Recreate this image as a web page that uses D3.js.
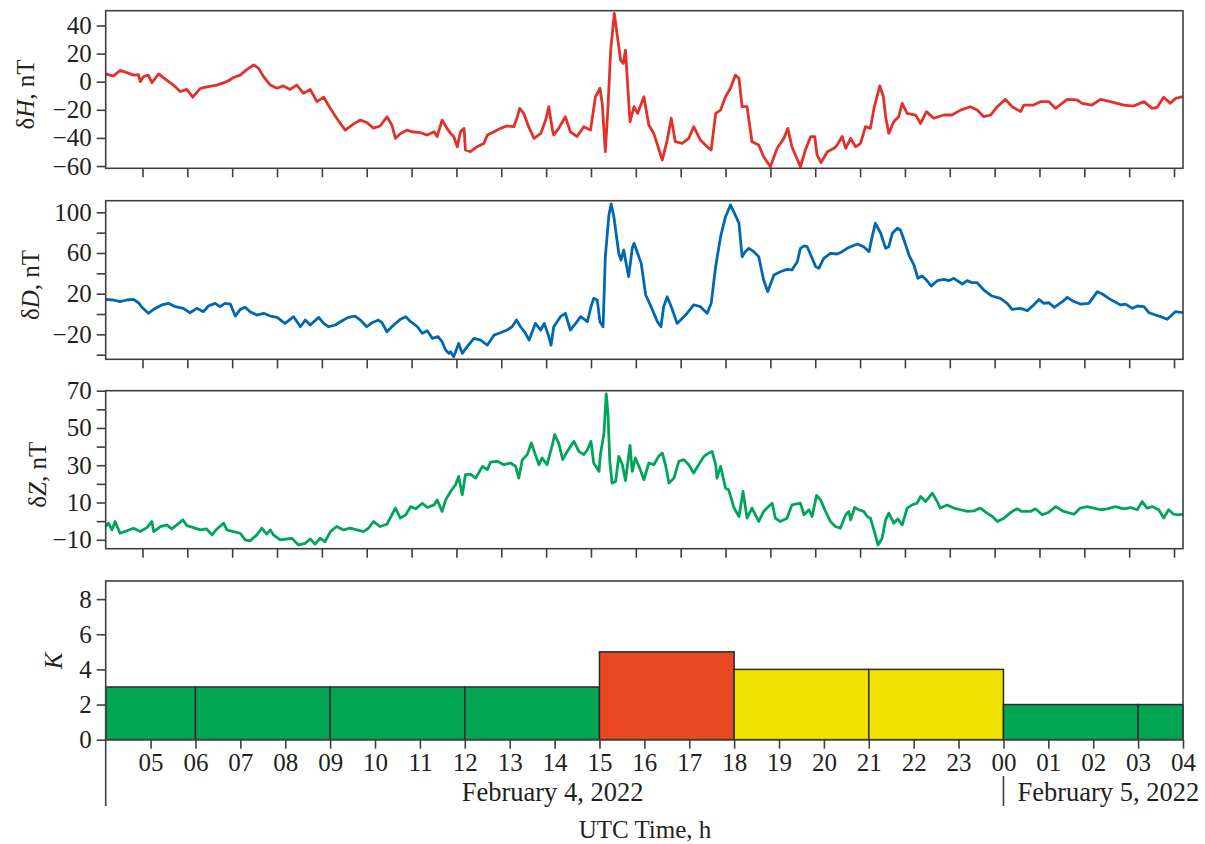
<!DOCTYPE html>
<html>
<head>
<meta charset="utf-8">
<script src="https://cdn.jsdelivr.net/npm/d3@7"></script>
<style>
  body { margin: 0; background: #fff; }
  text { font-family: "Liberation Serif", "DejaVu Serif", serif; fill: #231f20; }
</style>
</head>
<body>
<div id="draw"></div>
<script>
// hours are counted from 00 UTC of February 4 (28 = 04 UTC of February 5)
const deltaH = [
  [4.18,5.5],[4.35,4],[4.5,8],[4.65,6.4],[4.8,4.7],[4.91,5],[4.95,0],[5.02,3.5],[5.13,4.7],[5.21,-0.7],
  [5.36,5.5],[5.54,1.2],[5.69,-2.4],[5.84,-7],[5.99,-5.5],[6.12,-11],[6.29,-4.7],[6.47,-3.5],[6.66,-2.4],
  [6.88,0],[7.03,3],[7.18,4.7],[7.33,8.8],[7.48,11.9],[7.59,9.5],[7.7,3.6],[7.85,-2.4],[8,-4.7],[8.14,-3],
  [8.29,-5.5],[8.44,-2.4],[8.59,-8.3],[8.74,-5.5],[8.89,-14.2],[9.04,-11],[9.19,-19],[9.33,-26],[9.52,-34.4],
  [9.71,-30],[9.86,-27.3],[10,-29],[10.15,-33],[10.3,-31.5],[10.45,-25],[10.56,-30.8],[10.64,-40.3],[10.75,-37],
  [10.9,-34.4],[11.01,-35.6],[11.2,-36.3],[11.35,-38],[11.5,-35.6],[11.57,-39],[11.68,-27.3],[11.79,-33.2],
  [11.87,-36.8],[11.94,-39],[12.02,-46.3],[12.09,-35.6],[12.17,-33.2],[12.2,-48.6],[12.31,-49.8],[12.46,-46.3],
  [12.61,-43.9],[12.69,-38],[12.84,-35.6],[12.98,-33.2],[13.13,-31.5],[13.28,-32],[13.36,-24.9],[13.41,-19],
  [13.5,-22.5],[13.61,-32],[13.73,-40.3],[13.88,-36.8],[13.99,-27.3],[14.06,-17.8],[14.14,-34.4],[14.17,-38],
  [14.28,-33.2],[14.43,-24.9],[14.54,-35.6],[14.69,-39],[14.84,-32],[14.99,-34.4],[15.1,-10.7],[15.2,-4.7],
  [15.25,-15.4],[15.32,-49.8],[15.38,-17.8],[15.44,22.5],[15.52,48.6],[15.58,34.4],[15.66,15.4],[15.72,13],
  [15.77,22.5],[15.82,-3.6],[15.87,-28.5],[15.96,-17.8],[16.04,-22.5],[16.18,-10.7],[16.29,-30.8],[16.4,-36.8],
  [16.59,-55.7],[16.7,-41.5],[16.79,-26],[16.88,-42.7],[17.03,-43.9],[17.18,-40.3],[17.29,-32],[17.44,-41.5],
  [17.59,-46.3],[17.68,-48.6],[17.78,-22.5],[17.89,-20.2],[18,-10.7],[18.11,-4.7],[18.22,4.7],[18.3,2.4],
  [18.37,-17.8],[18.48,-17.8],[18.59,-42.7],[18.74,-45],[18.85,-53.4],[19,-60.5],[19.15,-47.4],[19.3,-40.3],
  [19.39,-33.2],[19.48,-46.3],[19.67,-60.5],[19.78,-48.6],[19.9,-39],[19.99,-39],[20.04,-52],[20.13,-57.6],
  [20.27,-49.8],[20.42,-47.4],[20.49,-45],[20.6,-39],[20.68,-47.4],[20.79,-40.3],[20.9,-46.3],[21.01,-43.9],
  [21.12,-32],[21.23,-33.2],[21.31,-19],[21.44,-3],[21.52,-10.7],[21.57,-24.9],[21.64,-36.8],[21.75,-28.5],
  [21.86,-24.9],[21.94,-15.4],[22.05,-22.5],[22.24,-23.7],[22.35,-29.7],[22.48,-21.3],[22.64,-26],[22.87,-23.7],
  [23.05,-23.7],[23.24,-20.2],[23.46,-17.8],[23.61,-20.2],[23.76,-24.9],[23.91,-23.7],[24.06,-17.8],[24.24,-12.6],
  [24.39,-17.8],[24.58,-21.3],[24.65,-16.6],[24.87,-16.6],[25.02,-14.2],[25.21,-14.2],[25.36,-19],[25.62,-12.6],
  [25.84,-13],[25.95,-15.4],[26.17,-16.6],[26.36,-12.6],[26.58,-14.2],[26.88,-16.6],[27.1,-17.3],[27.33,-14.2],
  [27.51,-19],[27.62,-18.3],[27.77,-11.1],[27.92,-15.4],[28.03,-11.9],[28.2,-10.7]
];

const deltaD = [
  [4.18,14.4],[4.35,13.8],[4.5,12.1],[4.65,13.8],[4.8,14.4],[4.91,11.1],[4.99,6.6],[5.13,0.7],[5.25,4.6],
  [5.43,8.9],[5.58,10.5],[5.73,7.2],[5.91,5.6],[6.06,1.3],[6.21,5.6],[6.36,2.3],[6.47,7.9],[6.62,10.5],
  [6.73,7.2],[6.84,10.5],[6.96,9.8],[7.07,-2],[7.18,4.6],[7.29,6.6],[7.4,2.3],[7.55,-1],[7.7,0.7],[7.85,-2],
  [8,-3.3],[8.18,-9.2],[8.37,-2.6],[8.52,-12.5],[8.63,-5.9],[8.74,-10.8],[8.93,-3.3],[9.04,-9.2],[9.15,-12.5],
  [9.3,-10.8],[9.45,-6.6],[9.59,-3.3],[9.74,-2],[9.86,-5.9],[10,-12.5],[10.12,-8.5],[10.26,-5.9],[10.34,-8.5],
  [10.45,-17.4],[10.6,-10.8],[10.75,-5.2],[10.87,-2.6],[10.98,-7.5],[11.13,-12.5],[11.24,-19],[11.35,-16.4],
  [11.46,-23.9],[11.59,-22.3],[11.68,-27.2],[11.76,-35.4],[11.83,-38.7],[11.87,-37],[11.94,-42],[12.05,-28.9],
  [12.13,-38.7],[12.24,-32.1],[12.39,-23.9],[12.54,-25.6],[12.69,-30.5],[12.84,-20.7],[12.98,-18.4],
  [13.13,-15.7],[13.24,-12.5],[13.34,-5.9],[13.43,-12.5],[13.54,-19],[13.62,-25.6],[13.76,-9.2],[13.88,-15.7],
  [13.96,-9.2],[14.06,-22.3],[14.11,-30.5],[14.17,-12.5],[14.32,-2.6],[14.43,0.7],[14.54,-15.7],[14.66,-9.2],
  [14.77,-2.6],[14.92,-7.5],[15,7.2],[15.06,15.4],[15.14,13.8],[15.2,-7.5],[15.27,-12.5],[15.32,56.4],
  [15.4,97.4],[15.45,108.2],[15.51,95.7],[15.62,59.7],[15.67,53.1],[15.73,63],[15.79,48.2],[15.84,36.7],
  [15.92,64.6],[15.96,69.5],[16.04,59.7],[16.12,49.8],[16.22,18.7],[16.34,7.2],[16.48,-7.5],[16.56,-12.5],
  [16.62,7.2],[16.7,17],[16.79,7.2],[16.92,-9.2],[17.11,-1],[17.29,8.9],[17.44,7.2],[17.59,0.7],[17.68,10.5],
  [17.78,46.6],[17.89,76.1],[18,95.7],[18.11,107.2],[18.2,99],[18.3,89.2],[18.37,56.4],[18.44,61.3],
  [18.52,64.6],[18.63,61.3],[18.74,56.4],[18.85,33.4],[18.94,22],[19.08,38.4],[19.22,41.6],[19.37,43.9],
  [19.48,43.3],[19.6,51.5],[19.67,64.6],[19.75,66.9],[19.82,66.2],[19.9,58],[20.01,46.6],[20.08,44.9],
  [20.19,54.8],[20.34,59.7],[20.49,59],[20.6,61.3],[20.71,64.6],[20.79,66.2],[20.94,68.9],[21.08,66.2],
  [21.2,61.3],[21.27,76.1],[21.34,89.2],[21.46,79.4],[21.57,64.6],[21.64,66.2],[21.72,79.4],[21.83,84.3],
  [21.9,82.6],[21.98,72.8],[22.09,58],[22.2,48.2],[22.29,35.1],[22.38,37.4],[22.48,33.4],[22.59,27.5],
  [22.72,32.8],[22.87,34.1],[22.98,32.8],[23.09,35.1],[23.28,29.5],[23.39,32.8],[23.5,30.8],[23.61,30.8],
  [23.76,23.6],[23.94,17.7],[24.13,15.4],[24.28,10.5],[24.39,4.6],[24.58,5.6],[24.73,3.3],[24.87,8.9],
  [24.99,14.4],[25.1,10.5],[25.21,11.1],[25.33,6.6],[25.51,12.1],[25.62,16.4],[25.73,13.1],[25.91,9.8],
  [26.1,10.5],[26.29,22],[26.4,19.7],[26.58,14.4],[26.81,8.9],[26.92,9.8],[27.07,5.6],[27.18,7.9],[27.33,7.2],
  [27.44,1.3],[27.59,-1],[27.7,-2.6],[27.85,-5.2],[28.03,2.3],[28.2,1.3]
];

const deltaZ = [
  [4.18,-2.9],[4.24,-1.1],[4.32,-4.7],[4.39,-0.2],[4.5,-6.5],[4.65,-5.2],[4.8,-3.8],[4.95,-5.6],[5.1,-3.5],
  [5.21,-0.2],[5.25,-5.6],[5.4,-2.9],[5.54,-2],[5.65,-4.2],[5.77,-2],[5.9,0.7],[5.99,-2.4],[6.14,-3.5],
  [6.29,-4.7],[6.43,-4.2],[6.55,-7.4],[6.66,-4.2],[6.81,-1.1],[6.88,-4.7],[7.03,-5.6],[7.18,-6.5],[7.29,-10.1],
  [7.4,-10.6],[7.55,-7.4],[7.66,-3.8],[7.77,-7],[7.85,-4.7],[7.92,-7.4],[8.07,-10.1],[8.22,-9.6],[8.33,-9.2],
  [8.48,-12.8],[8.63,-11.9],[8.74,-9.6],[8.85,-12.4],[8.96,-9.2],[9.07,-11],[9.19,-5.6],[9.33,-2.9],[9.48,-4.7],
  [9.63,-3.8],[9.78,-4.7],[9.93,-5.6],[10.04,-3.8],[10.15,-0.2],[10.3,-2.9],[10.45,-1.7],[10.56,3.4],[10.64,7],
  [10.75,1.6],[10.87,3.4],[10.98,7.8],[11.09,6.6],[11.24,9.6],[11.35,7.3],[11.5,8.7],[11.57,11.4],[11.68,5.2],
  [11.76,11.4],[11.87,15.9],[11.98,19.5],[12.05,24],[12.13,14.1],[12.2,24.9],[12.31,25.2],[12.43,23.1],
  [12.58,29.4],[12.69,27.6],[12.76,31.7],[12.91,32.1],[13.06,30.3],[13.21,31.2],[13.32,29.4],[13.39,23.1],
  [13.47,33],[13.58,35.7],[13.67,41.9],[13.76,35.7],[13.84,30.3],[13.91,33.9],[14.02,30.3],[14.14,41],
  [14.19,46.4],[14.28,41.9],[14.37,33],[14.47,37.4],[14.62,42.8],[14.73,37.4],[14.84,35.7],[14.92,38.3],
  [15,42.8],[15.06,31.2],[15.18,26.7],[15.21,35.7],[15.29,47.3],[15.34,68.3],[15.38,57.2],[15.42,32.1],
  [15.47,20.4],[15.55,21.3],[15.62,34.8],[15.7,30.3],[15.77,21.7],[15.87,40.7],[15.92,26.7],[15.99,33.9],
  [16.1,27.6],[16.18,22.2],[16.29,31.2],[16.4,30.3],[16.51,34.8],[16.59,36.6],[16.66,30.3],[16.74,20.4],
  [16.85,23.1],[16.96,32.1],[17.07,33],[17.18,30.3],[17.29,25.8],[17.4,30.3],[17.52,34.8],[17.63,36.6],
  [17.7,37.4],[17.78,30.3],[17.81,23.1],[17.89,29.4],[18,17.7],[18.07,16.8],[18.19,7],[18.3,2.5],[18.39,15.9],
  [18.48,1.6],[18.59,7],[18.74,-0.2],[18.85,5.2],[18.96,7.8],[19.04,9.6],[19.11,1.6],[19.22,-0.2],[19.37,1.6],
  [19.48,8.7],[19.67,9.6],[19.75,3.4],[19.86,6.1],[19.93,2.5],[20.03,13.8],[20.12,11.4],[20.23,5.2],
  [20.34,-0.2],[20.45,-2.9],[20.56,-3.8],[20.68,3.4],[20.75,5.2],[20.79,0.7],[20.88,7.3],[20.97,6.1],
  [21.08,5.2],[21.16,2.5],[21.23,1.6],[21.32,-5.6],[21.4,-12.8],[21.49,-9.2],[21.57,0.7],[21.64,4.3],
  [21.75,-1.1],[21.84,1.2],[21.94,-2],[22.05,7],[22.16,8.7],[22.27,9.6],[22.35,13.2],[22.46,10.5],[22.61,15],
  [22.72,10.5],[22.79,7],[22.94,8.7],[23.09,7],[23.24,6.1],[23.39,5.2],[23.54,5.5],[23.68,7],[23.83,4.3],
  [23.95,2.5],[24.06,-0.2],[24.21,1.6],[24.39,5.2],[24.5,6.6],[24.61,5.2],[24.8,5.2],[24.91,6.6],[25.06,3.4],
  [25.21,4.8],[25.36,7.8],[25.54,5.2],[25.77,3.7],[25.91,7],[26.06,7.8],[26.21,7],[26.36,6.1],[26.51,6.6],
  [26.69,7.8],[26.88,6.6],[27.03,7.3],[27.18,6.1],[27.29,10.5],[27.4,7],[27.51,7.8],[27.66,6.1],[27.77,1.6],
  [27.88,6.1],[27.99,3.7],[28.1,3.4],[28.2,3.7]
];

// three-hour K index intervals
const kStart = [4, 6, 9, 12, 15, 18, 21, 24, 27];
const kEnd   = [6, 9, 12, 15, 18, 21, 24, 27, 28];
const kValue = [3, 3, 3, 3, 5, 4, 4, 2, 2];
const kColor = ["#00a651", "#00a651", "#00a651", "#00a651", "#ea4823", "#efe200", "#efe200", "#00a651", "#00a651"];

const hourTicks = d3.range(5, 29);
const hourLabels = ["05","06","07","08","09","10","11","12","13","14","15","16","17","18","19","20","21","22","23","00","01","02","03","04"];

const hTicks = [-60, -40, -20, 0, 20, 40];
const dTicks = [-40, -20, 0, 20, 40, 60, 80, 100];
const dLabels = [-20, 20, 60, 100];
const zTicks = [-10, 0, 10, 20, 30, 40, 50, 60, 70];
const zLabels = [-10, 10, 30, 50, 70];
const kTicks = [0, 2, 4, 6, 8];

const W = 1205, H = 844;
const left = 105.7, right = 1183;
const frameColor = "#3f3f3f";
const fontSize = 25;

const svg = d3.select("#draw").append("svg")
  .attr("width", W)
  .attr("height", H);

// the three magnetogram panels are shifted a little in time compared with the K panel
const xTop = d3.scaleLinear().domain([4.18, 28.2]).range([left, right]);
const xK = d3.scaleLinear().domain([4, 28]).range([left, right]);

function drawFrame(top, bottom) {
  svg.append("rect")
    .attr("x", left).attr("y", top)
    .attr("width", right - left).attr("height", bottom - top)
    .attr("fill", "none")
    .attr("stroke", frameColor)
    .attr("stroke-width", 1.6);
}

function yTitle(cx, cy, parts) {
  const t = svg.append("text")
    .attr("transform", "translate(" + cx + "," + cy + ") rotate(-90)")
    .attr("text-anchor", "middle")
    .attr("dominant-baseline", "central")
    .style("font-size", fontSize + "px");
  parts.forEach(p => {
    t.append("tspan").style("font-style", p[1] ? "italic" : "normal").text(p[0]);
  });
}

function yAxis(y, ticks, labels) {
  const ax = d3.axisLeft(y).tickValues(ticks).tickSize(9).tickPadding(5)
    .tickFormat(d => labels.indexOf(d) >= 0 ? d3.format("")(d) : "");
  const g = svg.append("g").attr("transform", "translate(" + left + ",0)").call(ax);
  g.select(".domain").remove();
  g.selectAll("line").attr("stroke", frameColor).attr("stroke-width", 1.6);
  g.selectAll("text").style("font-size", fontSize + "px").style("font-family", "Liberation Serif").attr("fill", "#231f20");
}

function linePanel(data, color, top, bottom, domain, ticks, labels, title, titleX) {
  const y = d3.scaleLinear().domain(domain).range([bottom, top]);

  const line = d3.line()
    .x(d => xTop(d[0]))
    .y(d => y(d[1]));

  svg.append("path")
    .datum(data)
    .attr("d", line)
    .attr("fill", "none")
    .attr("stroke", color)
    .attr("stroke-width", 2.8)
    .attr("stroke-linejoin", "round");

  drawFrame(top, bottom);
  yAxis(y, ticks, labels);

  // hour ticks below the panel, no labels
  const ax = d3.axisBottom(xTop).tickValues(hourTicks).tickSize(9).tickFormat("");
  const g = svg.append("g").attr("transform", "translate(0," + bottom + ")").call(ax);
  g.select(".domain").remove();
  g.selectAll("line").attr("stroke", frameColor).attr("stroke-width", 1.6);

  yTitle(titleX, (top + bottom) / 2 + 5, title);
}

linePanel(deltaH, "#e2312a", 10.7, 168.3, [-61.6, 50.5], hTicks, hTicks, [["δ", false], ["H", true], [", nT", false]], 25);
linePanel(deltaD, "#0068b0", 200.7, 359.3, [-44.5, 111.4], dTicks, dLabels, [["δ", false], ["D", true], [", nT", false]], 30);
linePanel(deltaZ, "#00a45a", 390.7, 548.7, [-14.8, 70], zTicks, zLabels, [["δ", false], ["Z", true], [", nT", false]], 37);

// K index panel
const kTop = 581, kBottom = 739.7;
const yK = d3.scaleLinear().domain([0, 9.03]).range([kBottom, kTop]);

svg.append("g").selectAll("rect")
  .data(kValue)
  .join("rect")
  .attr("x", (d, i) => xK(kStart[i]))
  .attr("y", d => yK(d))
  .attr("width", (d, i) => xK(kEnd[i]) - xK(kStart[i]))
  .attr("height", d => yK(0) - yK(d))
  .attr("fill", (d, i) => kColor[i])
  .attr("stroke", "#2b2b2b")
  .attr("stroke-width", 1.5);

drawFrame(kTop, kBottom);
yAxis(yK, kTicks, kTicks);

const axK = d3.axisBottom(xK).tickValues(hourTicks).tickSize(9).tickPadding(5)
  .tickFormat((d, i) => hourLabels[i]);
const gK = svg.append("g").attr("transform", "translate(0," + kBottom + ")").call(axK);
gK.select(".domain").remove();
gK.selectAll("line").attr("stroke", frameColor).attr("stroke-width", 1.6);
gK.selectAll("text").style("font-size", fontSize + "px").style("font-family", "Liberation Serif").attr("fill", "#231f20");

svg.append("text")
  .attr("transform", "translate(53,661) rotate(-90)")
  .attr("text-anchor", "middle")
  .attr("dominant-baseline", "central")
  .style("font-size", fontSize + "px")
  .style("font-style", "italic")
  .text("K");

// date separators under the hour labels
svg.append("line")
  .attr("x1", left).attr("x2", left)
  .attr("y1", kBottom).attr("y2", 806)
  .attr("stroke", frameColor).attr("stroke-width", 1.6);
svg.append("line")
  .attr("x1", xK(24)).attr("x2", xK(24))
  .attr("y1", 776).attr("y2", 806)
  .attr("stroke", frameColor).attr("stroke-width", 1.6);

svg.append("text")
  .attr("x", (left + xK(24)) / 2 - 2).attr("y", 801)
  .attr("text-anchor", "middle")
  .style("font-size", "26.5px")
  .text("February 4, 2022");
svg.append("text")
  .attr("x", xK(24) + 14).attr("y", 801)
  .style("font-size", "26.5px")
  .text("February 5, 2022");

svg.append("text")
  .attr("x", 645).attr("y", 838)
  .attr("text-anchor", "middle")
  .style("font-size", fontSize + "px")
  .text("UTC Time, h");
</script>
</body>
</html>
